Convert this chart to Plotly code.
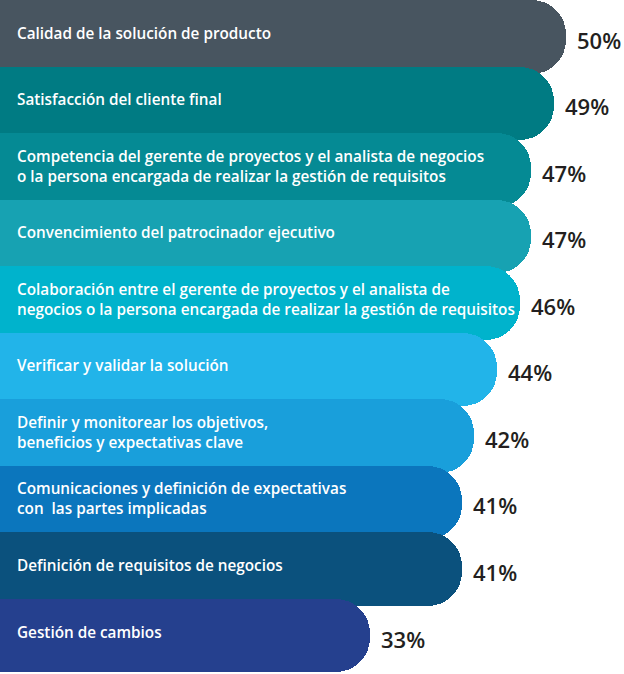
import plotly.graph_objects as go

categories = [
    "Calidad de la solución de producto",
    "Satisfacción del cliente final",
    "Competencia del gerente de proyectos y el analista de negocios<br>o la persona encargada de realizar la gestión de requisitos",
    "Convencimiento del patrocinador ejecutivo",
    "Colaboración entre el gerente de proyectos y el analista de<br>negocios o la persona encargada de realizar la gestión de requisitos",
    "Verificar y validar la solución",
    "Definir y monitorear los objetivos,<br>beneficios y expectativas clave",
    "Comunicaciones y definición de expectativas<br>con  las partes implicadas",
    "Definición de requisitos de negocios",
    "Gestión de cambios",
]
values = [50, 49, 47, 47, 46, 44, 42, 41, 41, 33]
value_labels = ["50%", "49%", "47%", "47%", "46%", "44%", "42%", "41%", "41%", "33%"]
colors = ["#485560", "#007B83", "#058A94", "#17A2B2", "#00B3CC",
          "#22B4E9", "#199FDB", "#0B76BD", "#0B517D", "#25408E"]

positions = list(range(len(categories)))

fig = go.Figure()
fig.add_trace(go.Bar(
    x=values,
    y=positions,
    orientation="h",
    width=1.11,
    marker=dict(color=colors, line=dict(width=0), cornerradius="47%"),
    hoverinfo="skip",
    showlegend=False,
))

annotations = []
for i, (cat, v, lab) in enumerate(zip(categories, values, value_labels)):
    annotations.append(dict(
        xref="paper", yref="y", x=0, y=i, xanchor="left", yanchor="middle",
        xshift=15, yshift=4, text=cat, showarrow=False, align="left",
        font=dict(family="Open Sans", size=15.3, color="white", weight=600),
    ))
    annotations.append(dict(
        xref="x", yref="y", x=v, y=i, xanchor="left", yanchor="middle",
        xshift=9, yshift=-3, text=lab, showarrow=False,
        font=dict(family="Open Sans", size=22, color="#231F20", weight=600),
    ))

fig.update_layout(
    width=624, height=674,
    margin=dict(l=0, r=0, t=0, b=0),
    paper_bgcolor="white", plot_bgcolor="white",
    xaxis=dict(range=[0.91, 55.03], visible=False, fixedrange=True),
    yaxis=dict(range=[9.579, -0.556], visible=False, fixedrange=True),
    annotations=annotations,
    bargap=0,
)

fig.write_html("out.html")
